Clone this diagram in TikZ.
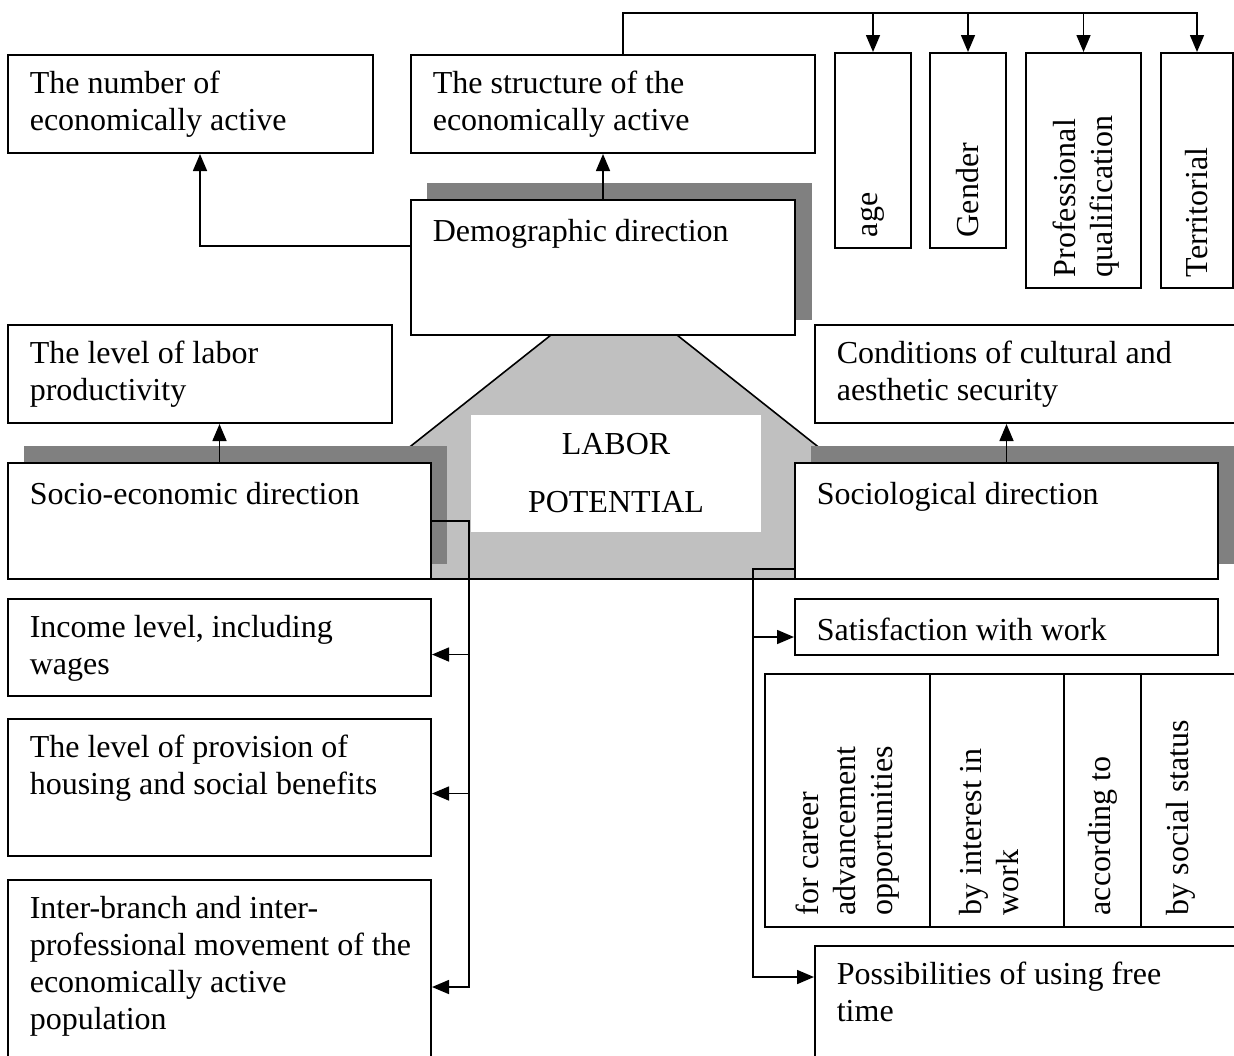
\documentclass[tikz,border=0pt]{standalone}
\usepackage{fontspec}
\setmainfont{Liberation Serif}
\usetikzlibrary{arrows.meta,fit}
\definecolor{shadowgray}{HTML}{808080}
\definecolor{potgray}{HTML}{C0C0C0}

\begin{document}
\begin{tikzpicture}[x=0.5pt,y=-0.5pt,line width=0.8pt,
    >={Triangle[length=8.5pt,width=7pt]},
    font=\fontsize{16}{18.5}\selectfont,
    box/.style={draw,fill=white,line width=1pt,inner sep=0pt},
    shadow/.style={fill=shadowgray,inner sep=0pt},
    txt/.style={anchor=north west,align=left,inner sep=0pt,
        execute at begin node=\strut,xshift=11pt,yshift=-8pt},
    vtxt/.style={rotate=90,anchor=west,align=left,inner sep=0pt},
    conn/.style={line width=0.8pt}]

    \useasboundingbox (0,0) rectangle (1234,1055);

    % grey trapezoid behind everything
    \filldraw[fill=potgray,line width=0.8pt]
        (551,335) -- (677,335) -- (985,579) -- (243,579) -- cycle;

    % shadows
    \node[shadow,fit={(427,183) (812,320)}] (demogS) {};
    \node[shadow,fit={(24,446) (447,564)}] (socioS) {};
    \node[shadow,fit={(811,446) (1240,564)}] (sociolS) {};

    % top row
    \node[box,fit={(8,55) (373,153)}] (number) {};
    \node[txt] (numberT) at (number.north west)
    {The number of\\economically active};

    \node[box,fit={(411,55) (815,153)}] (struct) {};
    \node[txt] (structT) at (struct.north west)
    {The structure of the\\economically active};

    \node[box,fit={(835,53) (911,248)}] (age) {};
    \node[vtxt] (ageT) at ([yshift=5.5pt]age.south) {age};

    \node[box,fit={(930,53) (1006,248)}] (gender) {};
    \node[vtxt] (genderT) at ([yshift=5.5pt]gender.south) {Gender};

    \node[box,fit={(1026,53) (1141,288)}] (prof) {};
    \node[vtxt] (profT) at ([yshift=5.5pt,xshift=1.5pt]prof.south) {Professional\\qualification};

    \node[box,fit={(1161,53) (1233,288)}] (terr) {};
    \node[vtxt] (terrT) at ([yshift=5.5pt]terr.south) {Territorial};

    % directions
    \node[box,fit={(411,200) (795,335)}] (demog) {};
    \node[txt] (demogT) at (demog.north west) {Demographic direction};

    \node[box,fit={(8,325) (392,423)}] (level) {};
    \node[txt] (levelT) at (level.north west)
    {The level of labor\\productivity};

    \node[box,fit={(815,325) (1240,423)}] (cond) {};
    \node[txt] (condT) at (cond.north west)
    {Conditions of cultural and\\aesthetic security};

    \node[box,fit={(8,463) (431,579)}] (socio) {};
    \node[txt] (socioT) at (socio.north west) {Socio-economic direction};

    \node[box,fit={(795,463) (1218,579)}] (sociol) {};
    \node[txt] (sociolT) at (sociol.north west) {Sociological direction};

    \node[fill=white,inner sep=0pt,fit={(471,415) (761,532)}] (labor) {};
    \node[align=center,inner sep=0pt,font=\fontsize{16}{29}\selectfont]
        (laborT) at (labor) {LABOR\\POTENTIAL};

    % socio-economic side
    \node[box,fit={(8,599) (431,696)}] (income) {};
    \node[txt] (incomeT) at (income.north west)
    {Income level, including\\wages};

    \node[box,fit={(8,719) (431,856)}] (housing) {};
    \node[txt] (housingT) at (housing.north west)
    {The level of provision of\\housing and social benefits};

    \node[box,fit={(8,880) (431,1094)}] (inter) {};
    \node[txt] (interT) at (inter.north west)
    {Inter-branch and inter-\\professional movement of the\\economically active\\population};

    % sociological side
    \node[box,fit={(795,599) (1218,655)}] (satisf) {};
    \node[txt] (satisfT) at (satisf.north west) {Satisfaction with work};

    \node[box,fit={(765,674) (930,927)}] (career) {};
    \node[vtxt] (careerT) at ([yshift=6pt]career.south)
    {for career\\advancement\\opportunities};
    \node[box,fit={(930,674) (1064,927)}] (interest) {};
    \node[vtxt] (interestT) at ([yshift=6pt,xshift=-4pt]interest.south)
    {by interest in\\work};
    \node[box,fit={(1064,674) (1141,927)}] (according) {};
    \node[vtxt] (accordingT) at ([yshift=6pt]according.south) {according to};
    \node[box,fit={(1141,674) (1240,927)}] (status) {};
    \node[vtxt] (statusT) at ([yshift=6pt,xshift=-4.75pt]status.south)
    {by social status};

    \node[box,fit={(815,946) (1240,1060)}] (poss) {};
    \node[txt] (possT) at (poss.north west)
    {Possibilities of using free\\time};

    % connectors
    \coordinate (top) at (1198,13);
    \coordinate (sbus) at (469,521);
    \coordinate (rbus) at (753,569);

    \draw[conn] ([xshift=5pt]struct.north) |- (top);
    \draw[conn,->] (age.north |- top) -- (age.north);
    \draw[conn,->] (gender.north |- top) -- (gender.north);
    \draw[conn,->] (prof.north |- top) -- (prof.north);
    \draw[conn,->] (terr.north |- top) -- (terr.north);

    \draw[conn,->] (demog.north) -- (demog.north |- struct.south);
    \draw[conn,->] ([yshift=10.75pt]demog.west) -| ([xshift=4.75pt]number.south);
    \draw[conn,->] (socio.north) -- (socio.north |- level.south);
    \draw[conn,->] (sociol.north) -- (sociol.north |- cond.south);

    \draw[conn,->] (socio.east |- sbus) -- (sbus) |- (inter.east);
    \draw[conn,->] ([yshift=-3.5pt]income.east -| sbus) -- ([yshift=-3.5pt]income.east);
    \draw[conn,->] ([yshift=-3pt]housing.east -| sbus) -- ([yshift=-3pt]housing.east);

    \draw[conn,->] (sociol.west |- rbus) -- (rbus) |- ([yshift=13pt]poss.west);
    \draw[conn,->] ([yshift=-5pt]satisf.west -| rbus) -- ([yshift=-5pt]satisf.west);
\end{tikzpicture}
\end{document}
